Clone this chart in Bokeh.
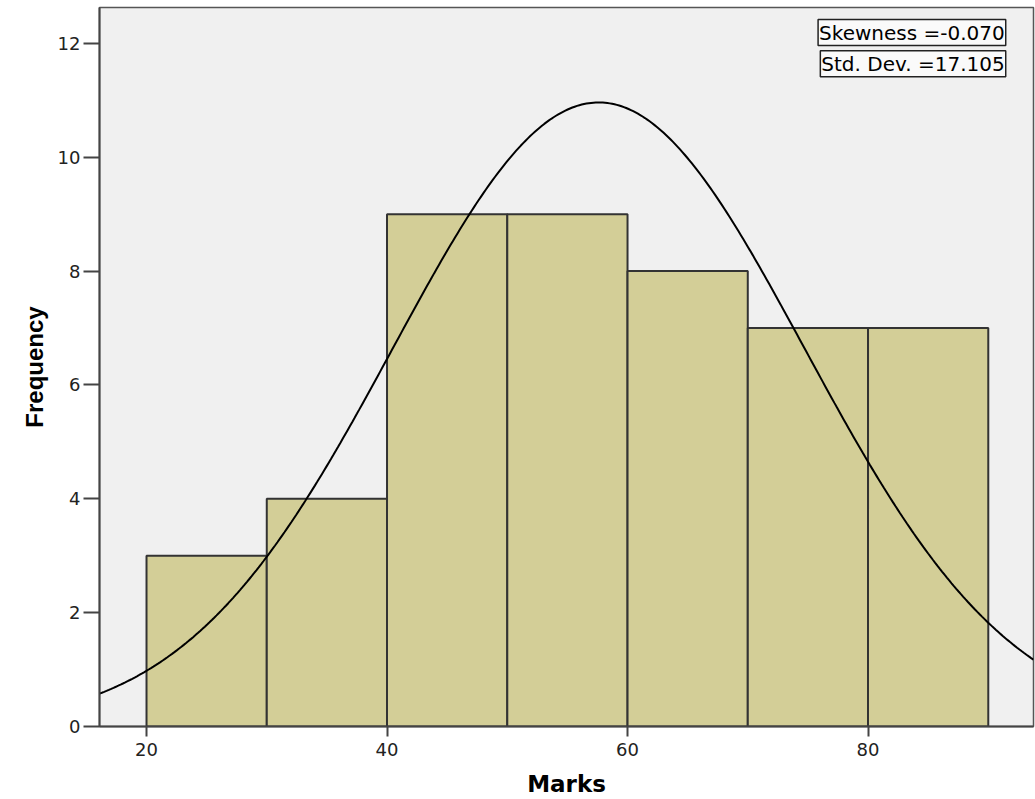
import numpy as np
from bokeh.plotting import figure
from bokeh.models import Range1d, FixedTicker, Label
from bokeh.embed import file_html
from bokeh.resources import INLINE

# Data
bin_left = [20, 30, 40, 50, 60, 70, 80]
bin_right = [30, 40, 50, 60, 70, 80, 90]
frequency = [3, 4, 9, 9, 8, 7, 7]
mean_mark = 57.6
std_dev = 17.105
skewness = -0.070
x_ticks = [20, 40, 60, 80]
y_ticks = [0, 2, 4, 6, 8, 10, 12]

n = sum(frequency)
bin_width = 10

p = figure(width=1035, height=799, output_backend="svg", toolbar_location=None,
           x_range=Range1d(16.09, 93.76), y_range=Range1d(0, 12.63),
           min_border_left=99, min_border_right=2, min_border_top=7, min_border_bottom=73)
p.background_fill_color = "#F0F0F0"
p.border_fill_color = "white"
p.outline_line_color = "#555555"
p.outline_line_width = 1.5
p.xgrid.visible = False
p.ygrid.visible = False

p.quad(left=bin_left, right=bin_right, bottom=0, top=frequency,
       fill_color="#D3CE97", line_color="#333333", line_width=2)

xs = np.linspace(16.09, 93.76, 400)
ys = n * bin_width / (std_dev * np.sqrt(2 * np.pi)) * np.exp(-0.5 * ((xs - mean_mark) / std_dev) ** 2)
p.line(xs, ys, line_color="black", line_width=2)

for ax in (p.xaxis[0], p.yaxis[0]):
    ax.axis_line_color = "#444444"
    ax.axis_line_width = 2
    ax.major_tick_line_color = "#444444"
    ax.major_tick_line_width = 2
    ax.major_tick_in = 0
    ax.minor_tick_line_color = None
    ax.major_label_text_font = "DejaVu Sans"
    ax.major_label_text_font_size = "18px"
    ax.major_label_text_color = "#222222"
    ax.axis_label_text_font_style = "bold"
    ax.axis_label_text_color = "black"

p.xaxis.ticker = FixedTicker(ticks=x_ticks)
p.yaxis.ticker = FixedTicker(ticks=y_ticks)
p.xaxis.major_tick_out = 10
p.yaxis.major_tick_out = 16
p.xaxis.major_label_standoff = 6
p.yaxis.major_label_standoff = 3

p.xaxis.axis_label = "Marks"
p.xaxis.axis_label_text_font = "DejaVu Sans"
p.xaxis.axis_label_text_font_size = "23px"
p.xaxis.axis_label_standoff = 12
p.yaxis.axis_label = "Frequency"
p.yaxis.axis_label_text_font = "Liberation Sans"
p.yaxis.axis_label_text_font_size = "24px"
p.yaxis.axis_label_standoff = 7

for txt, yv in ((f"Skewness =-{abs(skewness):.3f}", 12.19), (f"Std. Dev. ={std_dev:.3f}", 11.64)):
    p.add_layout(Label(x=91.45, y=yv, text=txt, text_align="right", text_baseline="middle",
                       text_font="DejaVu Sans", text_font_size="20px", text_color="black",
                       background_fill_color="#FAFAFA", border_line_color="#222222",
                       border_line_width=1.5, padding=1))

open("out.html", "w").write(file_html(p, INLINE))
